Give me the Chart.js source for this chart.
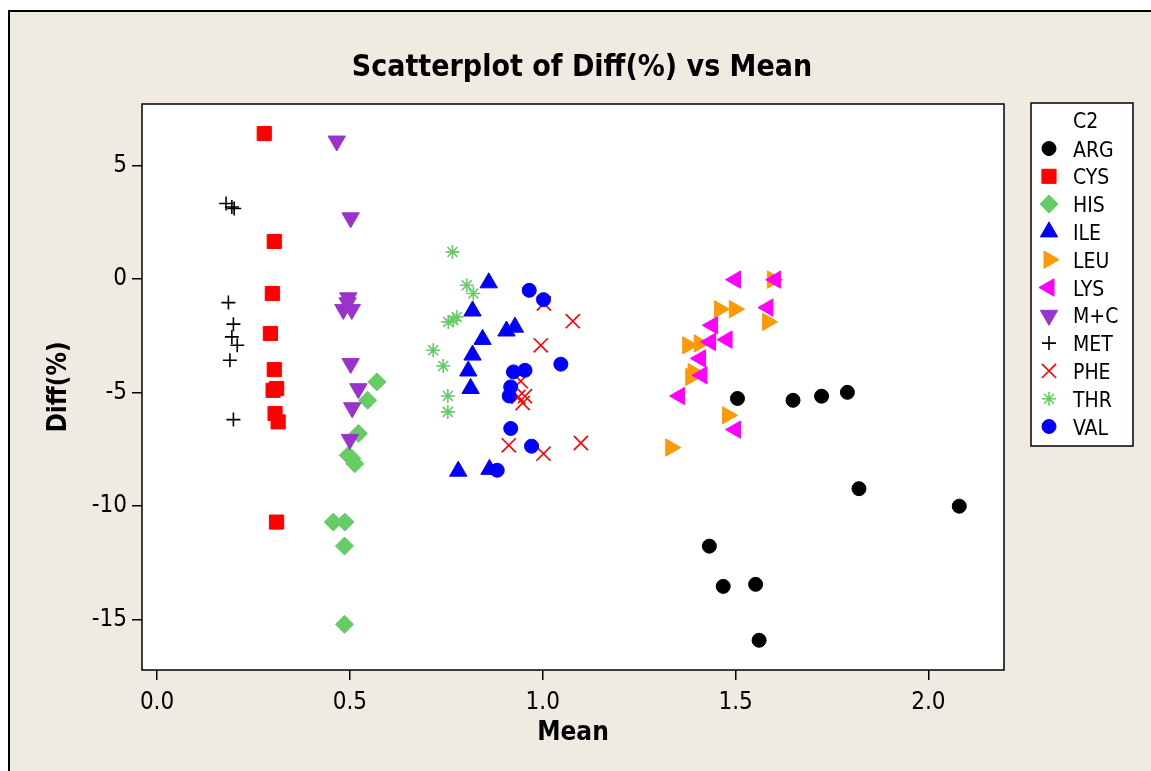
<!DOCTYPE html>
<html>
<head>
<meta charset="utf-8">
<script src="https://cdn.jsdelivr.net/npm/chart.js@4.4.1/dist/chart.umd.min.js"></script>
<style>
  html, body { margin: 0; padding: 0; background: #fff; }
  canvas { display: block; }
</style>
</head>
<body>
<canvas id="plot" width="1151" height="771"></canvas>
<script>
// groups in C2, in legend order
const groups = ['ARG', 'CYS', 'HIS', 'ILE', 'LEU', 'LYS', 'M+C', 'MET', 'PHE', 'THR', 'VAL'];

const argMean = [1.505, 1.649, 1.723, 1.790, 1.820, 2.080, 1.432, 1.468, 1.552, 1.561];
const argDiff = [-5.26, -5.34, -5.16, -4.99, -9.23, -10.00, -11.76, -13.53, -13.44, -15.90];

const cysMean = [0.278, 0.304, 0.299, 0.294, 0.304, 0.310, 0.301, 0.306, 0.314, 0.310];
const cysDiff = [6.40, 1.65, -0.64, -2.40, -3.99, -4.82, -4.90, -5.92, -6.29, -10.70];

const hisMean = [0.570, 0.546, 0.522, 0.496, 0.513, 0.457, 0.487, 0.486, 0.486, 0.505];
const hisDiff = [-4.53, -5.34, -6.80, -7.76, -8.13, -10.70, -10.70, -11.75, -15.20, -7.90];

const ileMean = [0.860, 0.818, 0.906, 0.928, 0.844, 0.818, 0.807, 0.813, 0.781, 0.862];
const ileDiff = [-0.17, -1.41, -2.29, -2.12, -2.66, -3.35, -4.05, -4.82, -8.46, -8.38];

const leuMean = [1.596, 1.458, 1.497, 1.583, 1.376, 1.406, 1.384, 1.479, 1.332, 1.390];
const leuDiff = [-0.03, -1.33, -1.33, -1.89, -2.92, -2.84, -4.31, -6.00, -7.42, -4.10];

const lysMean = [1.500, 1.604, 1.584, 1.440, 1.435, 1.478, 1.409, 1.413, 1.355, 1.500];
const lysDiff = [-0.03, -0.03, -1.26, -2.04, -2.77, -2.67, -3.50, -4.24, -5.15, -6.63];

const mcMean = [0.466, 0.502, 0.496, 0.483, 0.505, 0.494, 0.502, 0.522, 0.506, 0.500];
const mcDiff = [6.07, 2.69, -0.83, -1.34, -1.34, -1.05, -3.72, -4.83, -5.67, -7.06];

const metMean = [0.179, 0.194, 0.200, 0.185, 0.198, 0.194, 0.208, 0.189, 0.198];
const metDiff = [3.32, 3.17, 3.10, -1.04, -1.99, -2.55, -2.92, -3.58, -6.19];

const pheMean = [1.003, 1.078, 0.995, 0.943, 0.937, 0.954, 0.948, 0.912, 1.002, 1.099];
const pheDiff = [-1.08, -1.86, -2.92, -4.50, -5.19, -5.16, -5.46, -7.32, -7.69, -7.22];

const thrMean = [0.766, 0.803, 0.820, 0.755, 0.768, 0.777, 0.716, 0.742, 0.754, 0.754];
const thrDiff = [1.19, -0.28, -0.64, -1.89, -1.82, -1.67, -3.14, -3.83, -5.15, -5.85];

const valMean = [0.965, 1.002, 1.047, 0.924, 0.954, 0.917, 0.913, 0.917, 0.971, 0.882];
const valDiff = [-0.50, -0.91, -3.75, -4.09, -4.02, -4.75, -5.15, -6.58, -7.36, -8.42];

const xTicks = [0, 0.5, 1, 1.5, 2];
const yTicks = [5, 0, -5, -10, -15];

const means = [argMean, cysMean, hisMean, ileMean, leuMean, lysMean, mcMean, metMean, pheMean, thrMean, valMean];
const diffs = [argDiff, cysDiff, hisDiff, ileDiff, leuDiff, lysDiff, mcDiff, metDiff, pheDiff, thrDiff, valDiff];

// symbol per group (Minitab default symbol set)
const colors = ['#000000', '#ff0000', '#66cc66', '#0000ff', '#ff9900', '#ff00ff', '#9933cc', '#000000', '#ff0000', '#66cc66', '#0000ff'];
const shapes = ['circle', 'rect', 'rectRot', 'triangle', 'triangle', 'triangle', 'triangle', 'cross', 'crossRot', 'star', 'circle'];
const turns = [0, 0, 0, 0, 90, -90, 180, 0, 0, 0, 0];
const sizes = [7, 10, 9, 10, 10, 10, 10, 7, 10, 7, 7];
const lines = [1, 1, 1, 1, 1, 1, 1, 1.6, 1.6, 1.6, 1];

const FONT = '"DejaVu Sans Condensed", "DejaVu Sans", sans-serif';
const PAPER = '#efebe0';

const datasets = groups.map((g, i) => ({
  label: g,
  data: means[i].map((m, j) => ({ x: m, y: diffs[i][j] })),
  pointStyle: shapes[i],
  pointRotation: turns[i],
  pointRadius: sizes[i],
  pointHoverRadius: sizes[i],
  pointBackgroundColor: colors[i],
  pointBorderColor: colors[i],
  pointBorderWidth: lines[i],
  order: groups.length - i
}));

const frame = {
  id: 'frame',
  beforeDraw(chart) {
    const { ctx, chartArea: a } = chart;
    ctx.save();
    ctx.fillStyle = '#ffffff';
    ctx.fillRect(0, 0, chart.width, chart.height);
    ctx.fillStyle = PAPER;
    ctx.fillRect(9, 11, chart.width, chart.height);
    ctx.strokeStyle = '#000';
    ctx.lineWidth = 2;
    ctx.strokeRect(9, 11, chart.width + 10, chart.height + 10);

    ctx.fillStyle = '#ffffff';
    ctx.fillRect(a.left, a.top, a.right - a.left, a.bottom - a.top);
    ctx.lineWidth = 1.5;
    ctx.strokeRect(a.left, a.top, a.right - a.left, a.bottom - a.top);

    ctx.fillStyle = '#000';
    ctx.font = 'bold 30px ' + FONT;
    ctx.textAlign = 'center';
    ctx.textBaseline = 'alphabetic';
    ctx.fillText('Scatterplot of Diff(%) vs Mean', 582, 76);
    ctx.restore();
  },
  afterDraw(chart) {
    // legend box for C2
    const ctx = chart.ctx;
    const bx = 1031, by = 103, bw = 102, bh = 343;
    ctx.save();
    ctx.fillStyle = '#ffffff';
    ctx.fillRect(bx, by, bw, bh);
    ctx.strokeStyle = '#000';
    ctx.lineWidth = 1.5;
    ctx.strokeRect(bx, by, bw, bh);

    ctx.fillStyle = '#000';
    ctx.font = '21px ' + FONT;
    ctx.textAlign = 'left';
    ctx.textBaseline = 'alphabetic';
    ctx.fillText('C2', 1073, 128);

    groups.forEach((g, i) => {
      const cy = 148.5 + i * 27.8;
      ctx.fillStyle = '#000';
      ctx.fillText(g, 1073, cy + 8);
      ctx.fillStyle = colors[i];
      ctx.strokeStyle = colors[i];
      ctx.lineWidth = lines[i];
      Chart.helpers.drawPoint(ctx, {
        pointStyle: shapes[i],
        rotation: turns[i],
        radius: sizes[i],
        borderWidth: lines[i]
      }, 1049, cy);
    });
    ctx.restore();
  }
};

new Chart(document.getElementById('plot'), {
  type: 'scatter',
  data: { datasets },
  plugins: [frame],
  options: {
    responsive: false,
    animation: false,
    layout: { padding: { left: 40, right: 147, top: 104, bottom: 18 } },
    plugins: {
      legend: { display: false },
      tooltip: { enabled: false }
    },
    scales: {
      x: {
        type: 'linear',
        min: -0.039,
        max: 2.196,
        afterFit: s => { s.height = 83; },
        afterBuildTicks: s => { s.ticks = xTicks.map(v => ({ value: v })); },
        border: { display: false },
        grid: { drawOnChartArea: false, drawTicks: true, tickLength: 10, color: '#000', lineWidth: 1.5 },
        ticks: {
          color: '#000',
          padding: 8,
          font: { family: FONT, size: 24 },
          callback: v => v.toFixed(1)
        },
        title: {
          display: true,
          text: 'Mean',
          color: '#000',
          font: { family: FONT, size: 26, weight: 'bold' }
        }
      },
      y: {
        type: 'linear',
        min: -17.21,
        max: 7.70,
        afterFit: s => { s.width = 102; },
        afterBuildTicks: s => { s.ticks = yTicks.map(v => ({ value: v })); },
        border: { display: false },
        grid: { drawOnChartArea: false, drawTicks: true, tickLength: 10, color: '#000', lineWidth: 1.5 },
        ticks: {
          color: '#000',
          padding: 5,
          font: { family: FONT, size: 24 },
          callback: v => String(v)
        },
        title: {
          display: true,
          text: 'Diff(%)',
          color: '#000',
          font: { family: FONT, size: 26, weight: 'bold' }
        }
      }
    }
  }
});
</script>
</body>
</html>
